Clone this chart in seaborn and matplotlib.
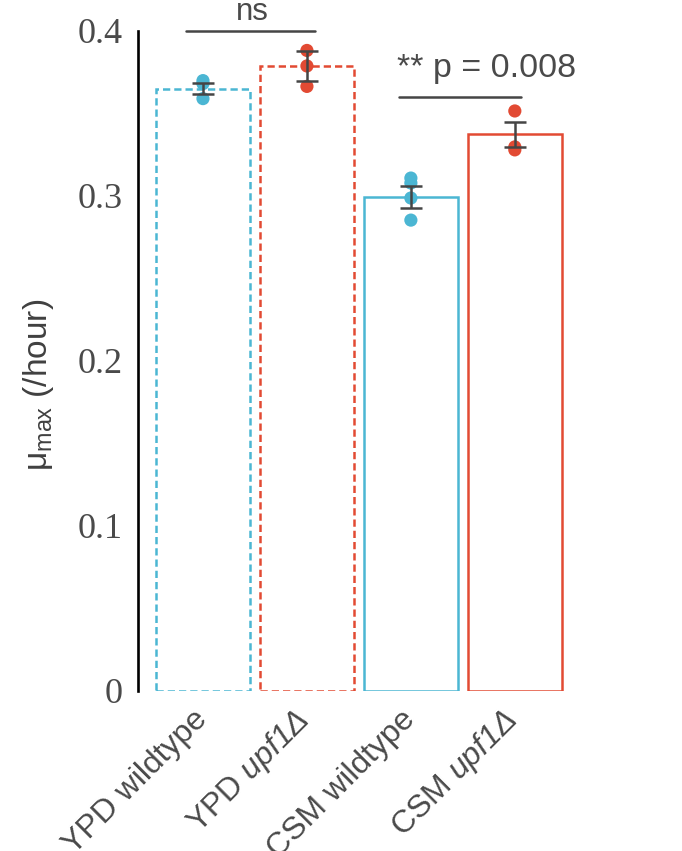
import numpy as np
import pandas as pd
import matplotlib
matplotlib.use('Agg')
import matplotlib.pyplot as plt
import seaborn as sns
from matplotlib.transforms import ScaledTranslation

# ---------------- data ----------------
categories = ['YPD wildtype', 'YPD upf1Δ', 'CSM wildtype', 'CSM upf1Δ']
tick_labels = ['YPD wildtype', r'YPD $\mathit{upf1Δ}$', 'CSM wildtype', r'CSM $\mathit{upf1Δ}$']
mean_values = [0.3651, 0.3788, 0.2994, 0.3373]
sem_values = [0.0033, 0.0091, 0.0066, 0.0076]
ypd_wt_points = [0.3699, 0.3681, 0.3590]
ypd_upf1_points = [0.3882, 0.3788, 0.3664]
csm_wt_points = [0.3108, 0.3078, 0.2987, 0.2853]
csm_upf1_points = [0.3515, 0.3297, 0.3279]
yticks = [0, 0.1, 0.2, 0.3, 0.4]
ytick_labels = ['0', '0.1', '0.2', '0.3', '0.4']
annot_ns = 'ns'
annot_p = '** p = 0.008'

# ---------------- style ----------------
sns.set_style('white')
plt.rcParams['font.family'] = ['Liberation Sans', 'DejaVu Sans']
plt.rcParams['mathtext.fontset'] = 'custom'
plt.rcParams['mathtext.it'] = 'Liberation Sans:italic'
plt.rcParams['mathtext.rm'] = 'Liberation Sans:italic'
plt.rcParams['mathtext.default'] = 'regular'

BLUE = '#4BB6D3'
RED = '#E24A33'
DARK = '#454545'
TXT = '#4a4a4a'
palette = {categories[0]: BLUE, categories[1]: RED, categories[2]: BLUE, categories[3]: RED}

bar_df = pd.DataFrame({'condition': categories, 'mu': mean_values})
pts_df = pd.DataFrame({
    'condition': [categories[0]] * len(ypd_wt_points) + [categories[1]] * len(ypd_upf1_points)
                 + [categories[2]] * len(csm_wt_points) + [categories[3]] * len(csm_upf1_points),
    'mu': ypd_wt_points + ypd_upf1_points + csm_wt_points + csm_upf1_points,
})

fig = plt.figure(figsize=(6.82, 8.51), dpi=100)
ax = fig.add_axes([138 / 682, 1 - 690.5 / 851, (572 - 138) / 682, 659.5 / 851])

sns.barplot(data=bar_df, x='condition', y='mu', hue='condition', order=categories,
            hue_order=categories, palette=palette, fill=False, linewidth=1.8,
            width=0.91, errorbar=None, legend=False, ax=ax)

dashed = {categories[0], categories[1]}
for cont, cat in zip(ax.containers, categories):
    for p in cont:
        p.set_edgecolor(palette[cat])
        p.set_facecolor('none')
        p.set_zorder(2)
        if cat in dashed:
            p.set_linestyle((0, (2.9, 1.6)))

sns.stripplot(data=pts_df, x='condition', y='mu', hue='condition', order=categories,
              hue_order=categories, palette=palette, jitter=False, size=9.5,
              linewidth=0, legend=False, ax=ax, zorder=3)
for c in ax.collections:
    c.set_clip_on(False)

ax.errorbar(x=np.arange(len(categories)), y=mean_values, yerr=sem_values, fmt='none',
            ecolor=DARK, elinewidth=1.8, capsize=8, capthick=1.8, zorder=4)

# significance annotations
ax.plot([-0.16, 1.08], [0.4002, 0.4002], color=DARK, lw=1.8, clip_on=False, zorder=5)
ax.text(0.48, 0.4067, annot_ns, ha='center', va='baseline', fontsize=22.5, color=TXT,
        clip_on=False)
ax.plot([1.885, 3.06], [0.3598, 0.3598], color=DARK, lw=1.8, clip_on=False, zorder=5)
ax.text(1.87, 0.3723, annot_p, ha='left', va='baseline', fontsize=24.5, color=TXT,
        clip_on=False)

# axes
ax.set_xlim(-0.625, 3.55)
ax.set_ylim(0, 0.4)
sns.despine(ax=ax, top=True, right=True, bottom=True, left=False)
ax.spines['left'].set_linewidth(1.9)
ax.spines['left'].set_color('black')

ax.set_yticks(yticks)
ax.set_yticklabels(ytick_labels, fontfamily='Liberation Serif', fontsize=26, color=TXT)
ax.set_xticks(np.arange(len(categories)))
ax.set_xticklabels(tick_labels, rotation=45, ha='right', va='top', fontsize=23, color=TXT)
ax.tick_params(axis='y', length=0, pad=11)
ax.tick_params(axis='x', length=0, pad=10)
offset = ScaledTranslation(10 / 100, 0, fig.dpi_scale_trans)
for lab in ax.get_xticklabels():
    lab.set_transform(lab.get_transform() + offset)

ax.set_xlabel('')
ax.set_ylabel(r'μ$_{\mathregular{max}}$ (/hour)', fontsize=24, color='#404040')
ax.yaxis.set_label_coords((56 - 138) / 434, (690.5 - 385) / 659.5)

fig.savefig('out.png', dpi=100)
